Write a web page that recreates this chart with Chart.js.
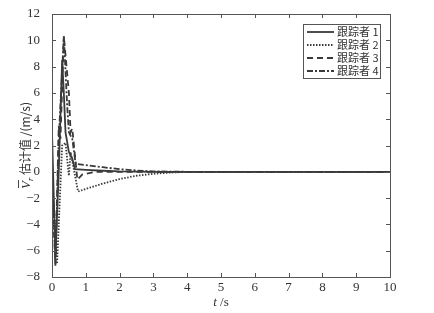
<!DOCTYPE html>
<html><head><meta charset="utf-8">
<script src="https://cdn.jsdelivr.net/npm/chart.js@4/dist/chart.umd.min.js"></script>
<style>html,body{margin:0;padding:0;background:#fff}#wrap{width:434px;height:313px}</style>
</head><body><div id="wrap"><canvas id="c" width="434" height="313"></canvas></div>
<script>
const seriesNames = ["跟踪者 1", "跟踪者 2", "跟踪者 3", "跟踪者 4"];
const t1 = [0, 0.1, 0.2, 0.3, 0.35, 0.4, 0.5, 0.6, 0.68, 1, 1.5, 2, 2.5, 3, 10];
const v1 = [3, -6.5, 0, 8.5, 6, 3, 1.5, 1, 0.2, 0.15, 0.08, 0.03, 0.01, 0, 0];
const t2 = [0, 0.15, 0.3, 0.4, 0.5, 0.55, 0.77, 1, 1.5, 2, 2.5, 3, 3.5, 4, 10];
const v2 = [0, -7, 2, 2.2, -0.3, 1.5, -1.5, -1.3, -0.9, -0.55, -0.3, -0.15, -0.06, 0, 0];
const t3 = [0, 0.1, 0.2, 0.25, 0.35, 0.5, 0.55, 0.6, 0.75, 0.9, 1.3, 2, 10];
const v3 = [0, -7, 3.5, 2.5, 10.3, 6, 3, 3.3, -0.6, -0.2, 0, 0, 0];
const t4 = [0, 0.1, 0.2, 0.35, 0.45, 0.5, 0.6, 0.7, 1, 1.5, 2, 2.5, 3, 4, 10];
const v4 = [0, -7.2, 2.5, 10.3, 5, 3, 2.5, 0.6, 0.5, 0.35, 0.2, 0.1, 0.03, 0, 0];
const xTicks = [0,1,2,3,4,5,6,7,8,9,10];
const yTicks = [-8,-6,-4,-2,0,2,4,6,8,10,12];

const pts = (t, v) => t.map((x, i) => ({x, y: v[i]}));
const col = '#3a3a3a';
const dashes = [[], [1.5, 1.5], [6, 4], [6, 2, 2, 2]];
const tsv = [[t1,v1],[t2,v2],[t3,v3],[t4,v4]];

const frame = {
  id: 'frame',
  afterDraw(chart) {
    const {ctx, chartArea: a, scales: {x, y}} = chart;
    ctx.save();
    ctx.strokeStyle = '#555'; ctx.lineWidth = 1; ctx.setLineDash([]);
    ctx.strokeRect(a.left + 0.5, a.top + 0.5, a.right - a.left, a.bottom - a.top);
    ctx.beginPath();
    xTicks.forEach(v => { const px = Math.round(x.getPixelForValue(v)) + 0.5;
      ctx.moveTo(px, a.bottom); ctx.lineTo(px, a.bottom - 4);
      ctx.moveTo(px, a.top); ctx.lineTo(px, a.top + 4); });
    yTicks.forEach(v => { const py = Math.round(y.getPixelForValue(v)) + 0.5;
      ctx.moveTo(a.left, py); ctx.lineTo(a.left + 4, py);
      ctx.moveTo(a.right, py); ctx.lineTo(a.right - 4, py); });
    ctx.stroke();
    // legend
    const lx = 303, ly = 24, lw = 77, lh = 54;
    ctx.fillStyle = '#fff'; ctx.fillRect(lx, ly, lw, lh);
    ctx.strokeStyle = '#555'; ctx.strokeRect(lx + 0.5, ly + 0.5, lw, lh);
    ctx.font = '11px "Noto Sans CJK SC"'; ctx.textBaseline = 'middle'; ctx.fillStyle = '#333';
    chart.data.datasets.forEach((ds, i) => {
      const yy = ly + 8 + i * 13;
      ctx.strokeStyle = col; ctx.lineWidth = 1.8; ctx.setLineDash(ds.borderDash || []);
      ctx.beginPath(); ctx.moveTo(lx + 4, yy); ctx.lineTo(lx + 31, yy); ctx.stroke();
      ctx.setLineDash([]);
      ctx.fillText(ds.label, lx + 34, yy);
    });
    // x title
    ctx.textBaseline = 'alphabetic'; ctx.fillStyle = '#333';
    ctx.font = 'italic 13px "Liberation Serif"';
    const wt = ctx.measureText('t').width;
    ctx.font = '13px "Liberation Serif"';
    const ws = ctx.measureText(' /s').width;
    let xs = (a.left + a.right) / 2 - (wt + ws) / 2;
    ctx.font = 'italic 13px "Liberation Serif"'; ctx.fillText('t', xs, 306);
    ctx.font = '13px "Liberation Serif"'; ctx.fillText(' /s', xs + wt, 306);
    // y title
    ctx.save();
    ctx.translate(26, (a.top + a.bottom) / 2);
    ctx.rotate(-Math.PI / 2);
    ctx.textBaseline = 'alphabetic';
    const rest = ' 估计值 /(m/s)';
    ctx.font = 'italic 13px "Liberation Serif"';
    const wV = ctx.measureText('V').width;
    ctx.font = 'italic 9px "Liberation Serif"';
    const wr = ctx.measureText('r').width;
    ctx.font = '12px "Noto Sans CJK SC"';
    const wRest = ctx.measureText(rest).width;
    let sx = -(wV + wr + wRest) / 2;
    ctx.fillStyle = '#333';
    ctx.font = 'italic 13px "Liberation Serif"'; ctx.fillText('V', sx, 4);
    ctx.strokeStyle = '#333'; ctx.lineWidth = 0.9; ctx.beginPath();
    ctx.moveTo(sx + 1, -7.5); ctx.lineTo(sx + wV + 1, -7.5); ctx.stroke();
    sx += wV;
    ctx.font = 'italic 9px "Liberation Serif"'; ctx.fillText('r', sx, 7);
    sx += wr;
    ctx.font = '12px "Noto Sans CJK SC"'; ctx.fillText(rest, sx, 4);
    ctx.restore();
    ctx.restore();
  }
};

new Chart(document.getElementById('c'), {
  type: 'line',
  data: {
    datasets: tsv.map(([t, v], i) => ({
      label: seriesNames[i], data: pts(t, v), borderColor: col, borderWidth: 1.8,
      borderDash: dashes[i], pointRadius: 0, tension: 0, fill: false
    }))
  },
  options: {
    responsive: false, animation: false,
    layout: { padding: { left: 0, right: 44, top: 14, bottom: 0 } },
    plugins: { legend: { display: false }, tooltip: { enabled: false } },
    scales: {
      x: { type: 'linear', min: 0, max: 10,
        afterBuildTicks: s => { s.ticks = xTicks.map(v => ({value: v})); },
        afterFit: s => { s.height = 36; },
        grid: { display: false }, border: { display: false },
        ticks: { color: '#333', font: { family: 'Liberation Serif', size: 13 }, padding: -5, maxRotation: 0 } },
      y: { min: -8, max: 12,
        afterBuildTicks: s => { s.ticks = yTicks.map(v => ({value: v})); },
        afterFit: s => { s.width = 52; },
        grid: { display: false }, border: { display: false },
        ticks: { color: '#333', font: { family: 'Liberation Serif', size: 13 }, padding: 4,
          callback: v => v < 0 ? '\u2212' + Math.abs(v) : '' + v } }
    }
  },
  plugins: [frame]
});
</script></body></html>
